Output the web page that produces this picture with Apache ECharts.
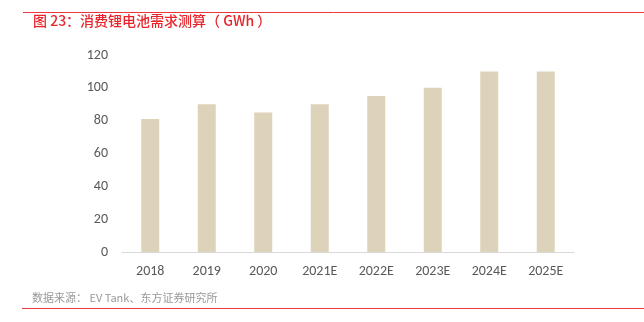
<!DOCTYPE html>
<html>
<head>
<meta charset="utf-8">
<script src="https://cdn.jsdelivr.net/npm/echarts@6/dist/echarts.min.js"></script>
<style>
  html, body { margin: 0; padding: 0; background: #fff; }
  #chart { width: 644px; height: 322px; }
</style>
</head>
<body>
<div id="chart"></div>
<script>
// Consumer lithium battery demand (GWh), actual and estimated
const years = ['2018', '2019', '2020', '2021E', '2022E', '2023E', '2024E', '2025E'];
const demand = [81, 90, 85, 90, 95, 100, 110, 110];
const yTicks = { min: 0, max: 120, interval: 20 };

const titleText = '图 23：消费锂电池需求测算（ GWh ）';
const sourceText = '数据来源： EV Tank、东方证券研究所';

const chart = echarts.init(document.getElementById('chart'));
const font = '"Noto Sans CJK SC", "Microsoft YaHei", sans-serif';
const numFont = 'Calibri, Carlito, "Open Sans", sans-serif';

chart.setOption({
  animation: false,
  textStyle: { fontFamily: font },
  graphic: [
    { type: 'line', shape: { x1: 23, y1: 12.5, x2: 644, y2: 12.5 },
      style: { stroke: '#E8383D', lineWidth: 1 } },
    { type: 'text', left: 33, top: 14,
      style: { text: titleText, fill: '#E8242B', font: '500 14px ' + font } },
    { type: 'text', left: 32, top: 292,
      style: { text: sourceText, fill: '#999999', font: '11px ' + font } },
    { type: 'line', shape: { x1: 22, y1: 308.5, x2: 644, y2: 308.5 },
      style: { stroke: '#E8383D', lineWidth: 1 } }
  ],
  grid: { left: 122, right: 70, top: 55, bottom: 70 },
  xAxis: {
    type: 'category',
    data: years,
    axisLine: { lineStyle: { color: '#D9D9D9', width: 1 } },
    axisTick: { show: false },
    axisLabel: { color: '#595959', fontSize: 14, margin: 12, fontFamily: numFont }
  },
  yAxis: {
    type: 'value',
    min: yTicks.min, max: yTicks.max, interval: yTicks.interval,
    axisLine: { show: false },
    axisTick: { show: false },
    splitLine: { show: false },
    axisLabel: { color: '#595959', fontSize: 14, margin: 14, fontFamily: numFont }
  },
  series: [{
    type: 'bar',
    data: demand,
    barWidth: 18,
    itemStyle: { color: '#DDD3BA' }
  }]
});
</script>
</body>
</html>
